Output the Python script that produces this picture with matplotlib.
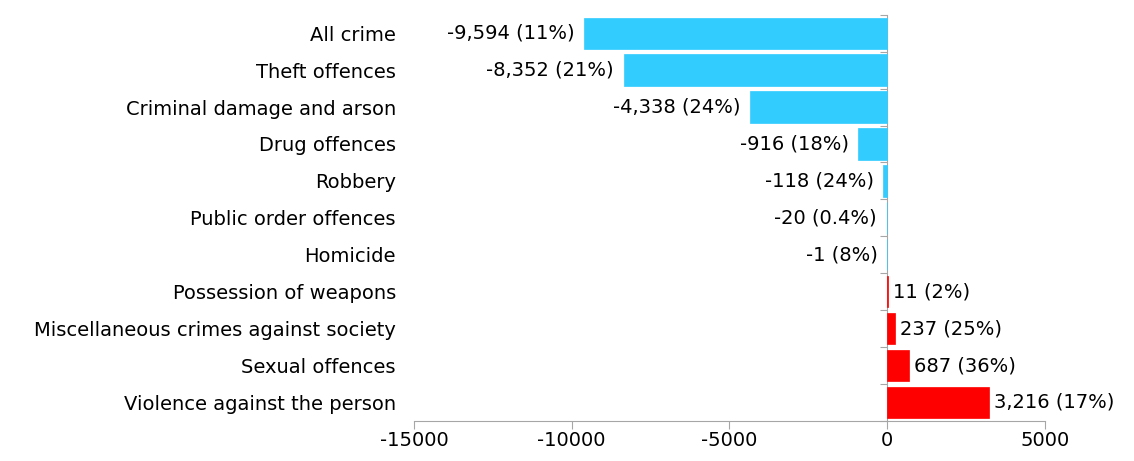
import numpy as np
import matplotlib.pyplot as plt

categories = ["All crime", "Theft offences", "Criminal damage and arson",
              "Drug offences", "Robbery", "Public order offences", "Homicide",
              "Possession of weapons", "Miscellaneous crimes against society",
              "Sexual offences", "Violence against the person"]
changes = [-9594, -8352, -4338, -916, -118, -20, -1, 11, 237, 687, 3216]
pct_labels = ["11%", "21%", "24%", "18%", "24%", "0.4%", "8%",
              "2%", "25%", "36%", "17%"]

BLUE = "#33CCFF"
RED = "#FF0000"
GREY = "#A6A6A6"
FS = 14

plt.rcParams["axes.unicode_minus"] = False

fig = plt.figure(figsize=(11.34, 4.61), dpi=100)
ax = fig.add_axes([0.365, 0.087, 0.5565, 0.881])

y = np.arange(len(categories))
colors = [BLUE if v < 0 else RED for v in changes]
# thin edge keeps the tiny bars (-1, -20, 11) visible
ax.barh(y, changes, height=0.85, color=colors, edgecolor=colors, linewidth=0.5)
ax.set_ylim(len(categories) - 0.5, -0.5)
ax.set_xlim(-15000, 5000)
ax.set_xticks([-15000, -10000, -5000, 0, 5000])
ax.tick_params(axis="x", labelsize=FS, length=6, color=GREY, pad=1)

ax.set_yticks(y, categories)
ax.tick_params(axis="y", length=0, labelsize=FS, pad=13)

for s in ["top", "right", "left"]:
    ax.spines[s].set_visible(False)
ax.spines["bottom"].set_color(GREY)

# vertical axis sitting at zero, with ticks between categories
zero_pos = (0 - ax.get_xlim()[0]) / (ax.get_xlim()[1] - ax.get_xlim()[0])
sec = ax.secondary_yaxis(zero_pos)
sec.set_yticks(np.arange(len(categories) + 1) - 0.5, labels=[])
sec.yaxis.set_ticks_position("left")
sec.tick_params(length=5, color=GREY, direction="out")
for s in sec.spines.values():
    s.set_color(GREY)

for yi, v, p in zip(y, changes, pct_labels):
    txt = "{:,} ({})".format(v, p)
    if v < 0:
        ax.annotate(txt, (v, yi), xytext=(-7, 0), textcoords="offset points",
                    ha="right", va="center", fontsize=FS)
    else:
        ax.annotate(txt, (v, yi), xytext=(4, 0), textcoords="offset points",
                    ha="left", va="center", fontsize=FS)

fig.savefig("out.png", dpi=100)
